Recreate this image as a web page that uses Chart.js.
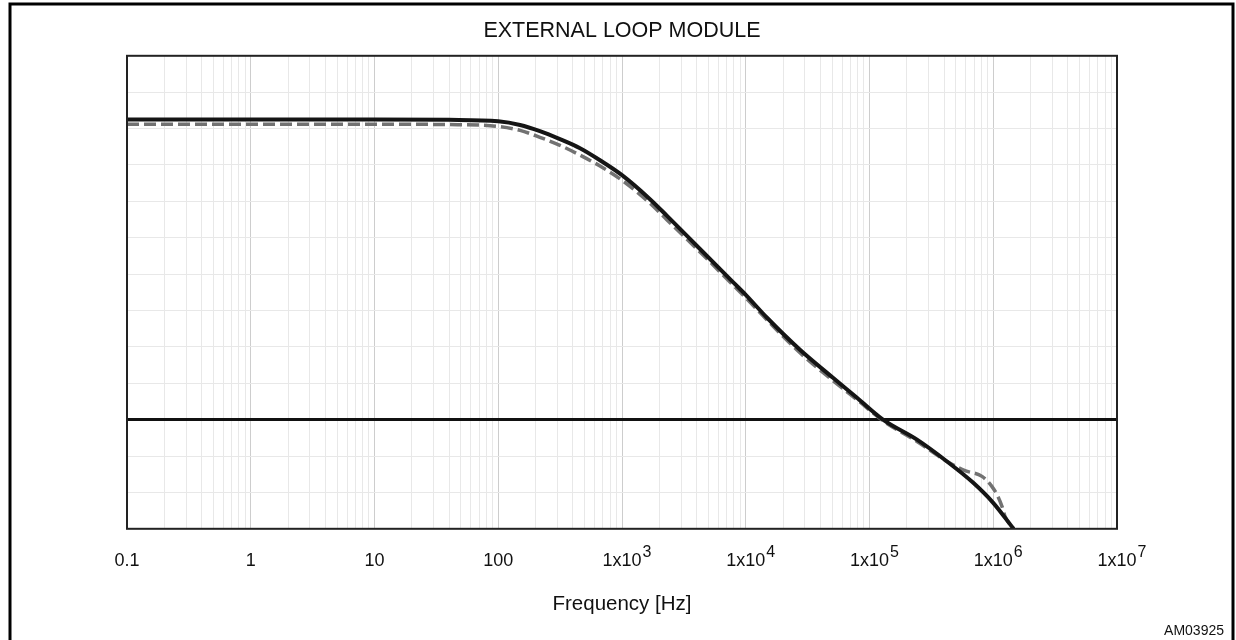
<!DOCTYPE html>
<html>
<head>
<meta charset="utf-8">
<script src="https://cdn.jsdelivr.net/npm/chart.js@4/dist/chart.umd.min.js"></script>
<style>
  html, body { margin: 0; padding: 0; background: #fff; }
</style>
</head>
<body>
<canvas id="gainChart" width="1236" height="640"></canvas>
<script>
// Trục tần số (log)
const freqTicks = [0.1, 1, 10, 100, 1e3, 1e4, 1e5, 1e6, 1e7];
const freqLabels = ['0.1', '1', '10', '100', '1x10', '1x10', '1x10', '1x10', '1x10'];
const freqExponents = ['', '', '', '', '3', '4', '5', '6', '7'];

// Trục độ lợi (không có nhãn), đường 0 đậm
const gainMin = -30;
const gainMax = 100;
const gainStep = 10;

// Đường liền
const freqSolid = [0.1, 1, 10, 40, 100, 150, 217, 315, 458, 664, 1000, 1683, 2311, 4266, 7889, 10000, 14860, 27420, 50700, 79250, 128500, 242000, 423000, 686000, 995000, 1460000];
const gainSolid = [82.5, 82.5, 82.5, 82.4, 82.0, 81.0, 79.3, 77.1, 74.6, 71.3, 67.2, 60.6, 56.0, 46.9, 37.8, 34.3, 28.0, 19.2, 11.5, 6.0, 0, -5.5, -11.5, -17.3, -22.8, -30.0];

// Đường nét đứt
const freqDashed = [0.1, 1, 10, 40, 100, 150, 217, 315, 458, 664, 1000, 1683, 2311, 4266, 7889, 10000, 14860, 27420, 50700, 79250, 128500, 242000, 423000, 591000, 811000, 977000, 1090000, 1178000, 1245000, 1460000];
const gainDashed = [81.2, 81.2, 81.2, 81.1, 80.6, 79.5, 77.6, 75.4, 72.7, 69.7, 65.8, 59.5, 54.9, 46.1, 37.0, 33.5, 27.4, 18.4, 10.7, 5.5, -0.3, -6.0, -11.5, -14.0, -15.6, -18.4, -21.1, -23.9, -26.6, -30.0];

const FONT = "'Liberation Sans', Arial, sans-serif";

function toPoints(xs, ys) {
  return xs.map((x, i) => ({ x: x, y: ys[i] }));
}

function decadeIndex(v) {
  return freqTicks.findIndex(f => Math.abs(Math.log10(f) - Math.log10(v)) < 1e-6);
}

// Khung ngoài, khung vùng vẽ, số mũ, mã hình
const framePlugin = {
  id: 'frame',
  afterDraw(chart) {
    const ctx = chart.ctx;
    const a = chart.chartArea;
    ctx.save();
    ctx.strokeStyle = '#000';
    ctx.lineWidth = 3;
    ctx.strokeRect(10, 4, 1223, 700);

    ctx.strokeStyle = '#222';
    ctx.lineWidth = 2;
    ctx.strokeRect(a.left, a.top, a.right - a.left, a.bottom - a.top);

    // số mũ trên nhãn 1x10^n
    const xs = chart.scales.x;
    ctx.fillStyle = '#111';
    freqTicks.forEach((f, i) => {
      if (!freqExponents[i]) return;
      const px = xs.getPixelForValue(f);
      ctx.font = '18px ' + FONT;
      const w = ctx.measureText(freqLabels[i]).width;
      ctx.font = '16px ' + FONT;
      ctx.textAlign = 'left';
      ctx.textBaseline = 'alphabetic';
      ctx.fillText(freqExponents[i], px + w / 2 + 1, a.bottom + 28);
    });

    ctx.font = '14px ' + FONT;
    ctx.textAlign = 'right';
    ctx.textBaseline = 'middle';
    ctx.fillText('AM03925', 1224, 631);
    ctx.restore();
  }
};

const config = {
  type: 'scatter',
  data: {
    datasets: [{
      label: 'solid',
      data: toPoints(freqSolid, gainSolid),
      showLine: true,
      borderColor: '#151515',
      borderWidth: 4,
      pointRadius: 0,
      cubicInterpolationMode: 'monotone'
    }, {
      label: 'dashed',
      data: toPoints(freqDashed, gainDashed),
      showLine: true,
      borderColor: '#727272',
      borderWidth: 3.5,
      borderDash: [12, 5],
      pointRadius: 0,
      cubicInterpolationMode: 'monotone'
    }]
  },
  options: {
    responsive: false,
    animation: false,
    layout: {
      padding: { left: 127, right: 119, top: 18, bottom: 23 }
    },
    plugins: {
      legend: { display: false },
      tooltip: { enabled: false },
      title: {
        display: true,
        text: 'EXTERNAL LOOP MODULE',
        color: '#111',
        font: { family: FONT, size: 21.5, weight: 'normal' },
        padding: { top: 0, bottom: 12 }
      }
    },
    scales: {
      x: {
        type: 'logarithmic',
        min: 0.1,
        max: 1e7,
        afterBuildTicks: (scale) => {
          const t = [];
          for (let e = -1; e <= 6; e++) {
            for (let m = 1; m <= 9; m++) t.push({ value: m * Math.pow(10, e), major: m === 1 });
          }
          t.push({ value: 1e7, major: true });
          scale.ticks = t;
        },
        grid: {
          drawTicks: false,
          color: (c) => (c.tick && decadeIndex(c.tick.value) >= 0) ? '#cdcdcd' : '#e8e8e8',
          lineWidth: 1
        },
        border: { display: false },
        ticks: {
          autoSkip: false,
          maxRotation: 0,
          padding: 21,
          color: '#111',
          font: { family: FONT, size: 18 },
          callback: (v) => {
            const i = decadeIndex(v);
            return i >= 0 ? freqLabels[i] : '';
          }
        },
        title: {
          display: true,
          text: 'Frequency [Hz]',
          color: '#111',
          font: { family: FONT, size: 20.5 },
          padding: { top: 0, bottom: 0 }
        }
      },
      y: {
        type: 'linear',
        min: gainMin,
        max: gainMax,
        ticks: { display: false, stepSize: gainStep },
        border: { display: false },
        grid: {
          drawTicks: false,
          color: (c) => (c.tick && c.tick.value === 0) ? '#111' : '#e8e8e8',
          lineWidth: (c) => (c.tick && c.tick.value === 0) ? 3 : 1
        }
      }
    }
  },
  plugins: [framePlugin]
};

var gainChart = new Chart(document.getElementById('gainChart'), config);
</script>
</body>
</html>
